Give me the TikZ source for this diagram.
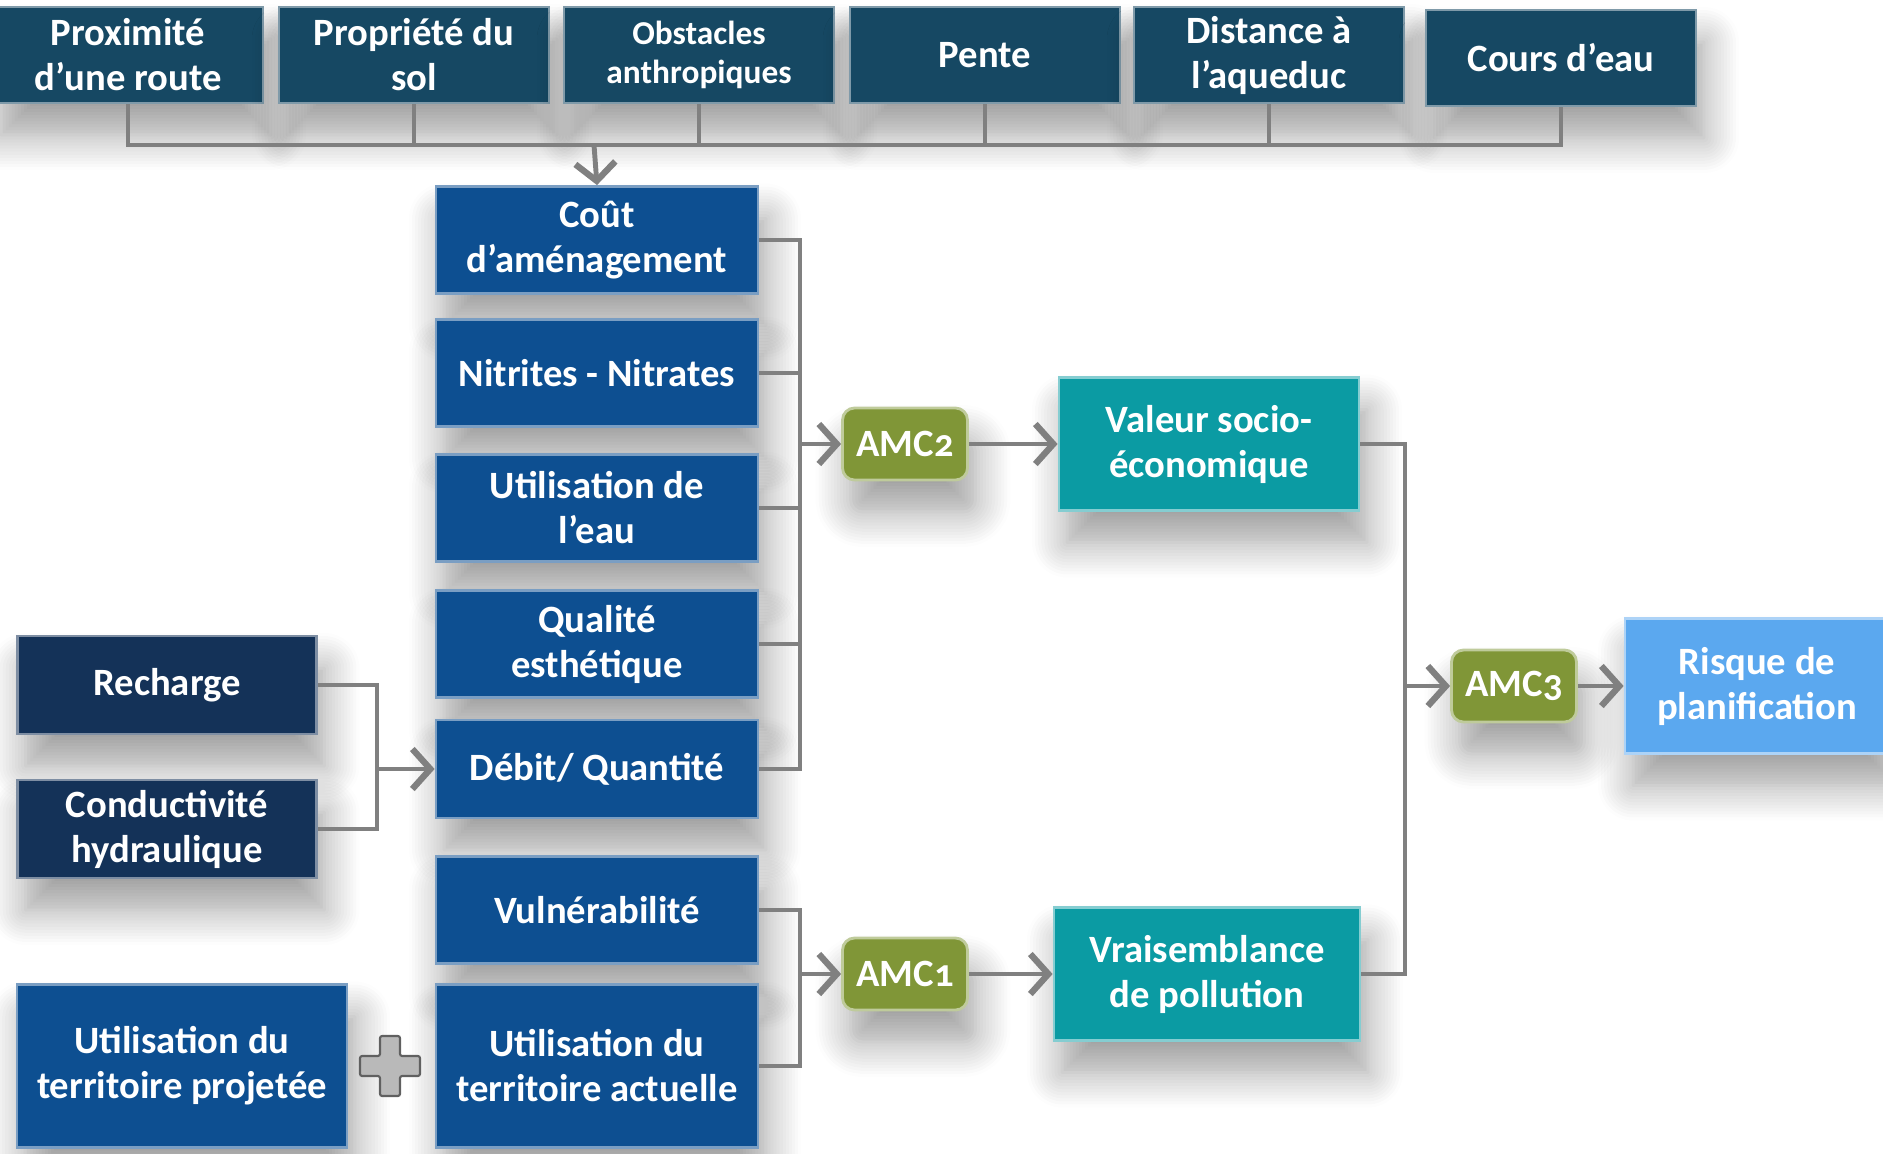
\documentclass[tikz,border=0pt]{standalone}
\usepackage{fontspec}
\setmainfont{Carlito}
\usetikzlibrary{arrows.meta,shadows.blur}
\definecolor{toprow}{RGB}{22,72,99}
\definecolor{midblue}{RGB}{13,79,145}
\definecolor{navy}{RGB}{20,50,88}
\definecolor{tealbox}{RGB}{11,155,163}
\definecolor{skyblue}{RGB}{91,168,239}
\definecolor{amcgreen}{RGB}{128,150,55}
\definecolor{linkgray}{RGB}{128,128,128}
\newcommand{\amcnum}[1]{{\addfontfeature{Numbers=OldStyle}#1}}

\begin{document}
\begin{tikzpicture}[x=0.1mm,y=-0.1mm] % criteria tree
\tikzstyle{every node}+=[inner sep=0pt,text=white,align=center,font=\fontsize{11}{12.8}\selectfont\bfseries]
\tikzstyle{box}=[rectangle,line width=0.8pt,blur shadow={shadow xshift=0.8mm,shadow yshift=-3.2mm,shadow blur radius=3.5mm,shadow blur steps=12,shadow opacity=38}]
\tikzstyle{crit}=[box,fill=toprow,draw=toprow!55!white,minimum width=27mm,minimum height=9.6mm]
\tikzstyle{fac}=[box,fill=midblue,draw=midblue!55!white,minimum width=32.2mm,minimum height=10.7mm]
\tikzstyle{src}=[box,fill=navy,draw=navy!55!white,minimum width=29.9mm,minimum height=9.8mm]
\tikzstyle{res}=[box,fill=tealbox,draw=tealbox!50!white,minimum width=30mm,minimum height=13.3mm]
\tikzstyle{amc}=[box,rounded corners=1.2mm,fill=amcgreen,draw=amcgreen!50!white,minimum width=12.5mm,minimum height=7.2mm]
\tikzstyle{link}=[draw=linkgray,line width=1.4pt]
\tikzstyle{arr}=[link,-{Straight Barb[length=1.8mm,width=4mm,line width=1.8pt]}]
\useasboundingbox (0,0) rectangle (1883,1153);
\node[crit] (prox) at (128,55) {Proximité\\d’une route};
\node[crit] (prop) at (414,55) {Propriété du\\sol};
\node[crit,font=\fontsize{9.5}{11}\selectfont\bfseries] (obst) at (699,55) {Obstacles\\anthropiques};
\node[crit] (pente) at (985,55) {Pente};
\node[crit] (dist) at (1269,55) {Distance à\\l’aqueduc};
\node[crit] (cours) at (1561,58) {Cours d’eau};
\node[fac] (cout) at (597,240) {Coût\\d’aménagement};
\node[fac] (nitr) at (597,373) {Nitrites - Nitrates};
\node[fac] (eau) at (597,508) {Utilisation de\\l’eau};
\node[fac] (qual) at (597,644) {Qualité\\esthétique};
\node[fac,minimum height=9.8mm] (debit) at (597,769) {Débit/ Quantité};
\node[fac] (vuln) at (597,910) {Vulnérabilité};
\node[fac,minimum height=16.3mm] (actu) at (597,1066) {Utilisation du\\territoire actuelle};
\node[src] (rech) at (167,685) {Recharge};
\node[src] (cond) at (167,829) {Conductivité\\hydraulique};
\node[fac,minimum width=33mm,minimum height=16.3mm] (proj) at (182,1066) {Utilisation du\\territoire projetée};
\node[amc] (amc2) at (905,444) {AMC\amcnum{2}};
\node[amc] (amc1) at (905,974) {AMC\amcnum{1}};
\node[res] (valeur) at (1209,444) {Valeur socio-\\économique};
\node[res,minimum width=30.6mm] (vrai) at (1207,974) {Vraisemblance\\de pollution};
\node[amc] (amc3) at (1514,686) {AMC\amcnum{3}};
\node[box,fill=skyblue,draw=skyblue!50!white,minimum width=26.4mm,minimum height=13.5mm] (risque) at (1757,686) {Risque de\\planification};
\coordinate (plus) at (390,1066);
\draw[fill=gray!55,draw=gray!75!black,line width=0.6pt,rounded corners=0.6pt] (plus) ++(-10,-30) -- ++(20,0) -- ++(0,20) -- ++(20,0) -- ++(0,20) -- ++(-20,0) -- ++(0,20) -- ++(-20,0) -- ++(0,-20) -- ++(-20,0) -- ++(0,-20) -- ++(20,0) -- cycle;
\coordinate (tb) at (594,145);
\coordinate (lb) at (377,0);
\coordinate (mb) at (800,0);
\coordinate (rb) at (1405,0);
\draw[link] (prox.south) |- (tb) -| (cours.south);
\foreach \n in {prop,obst,pente,dist} \draw[link] (\n.south) -- (\n.south |- tb);
\draw[arr] (tb) -- (cout.north);
\draw[link] (rech.east) -| (lb |- cond.east) -- (cond.east);
\draw[arr] (lb |- debit.west) -- (debit.west);
\draw[link] (cout.east) -| (mb |- debit.east) -- (debit.east);
\foreach \n in {nitr,eau,qual} \draw[link] (\n.east) -- (\n.east -| mb);
\draw[arr] (mb |- amc2.west) -- (amc2.west);
\draw[link] (vuln.east) -| (mb |- actu.east) -- (actu.east);
\draw[arr] (mb |- amc1.west) -- (amc1.west);
\draw[arr] (amc2) -- (valeur);
\draw[arr] (amc1) -- (vrai);
\draw[link] (valeur.east) -| (rb |- vrai.east) -- (vrai.east);
\draw[arr] (rb |- amc3.west) -- (amc3.west);
\draw[arr] (amc3) -- (risque);
\end{tikzpicture}
\end{document}
